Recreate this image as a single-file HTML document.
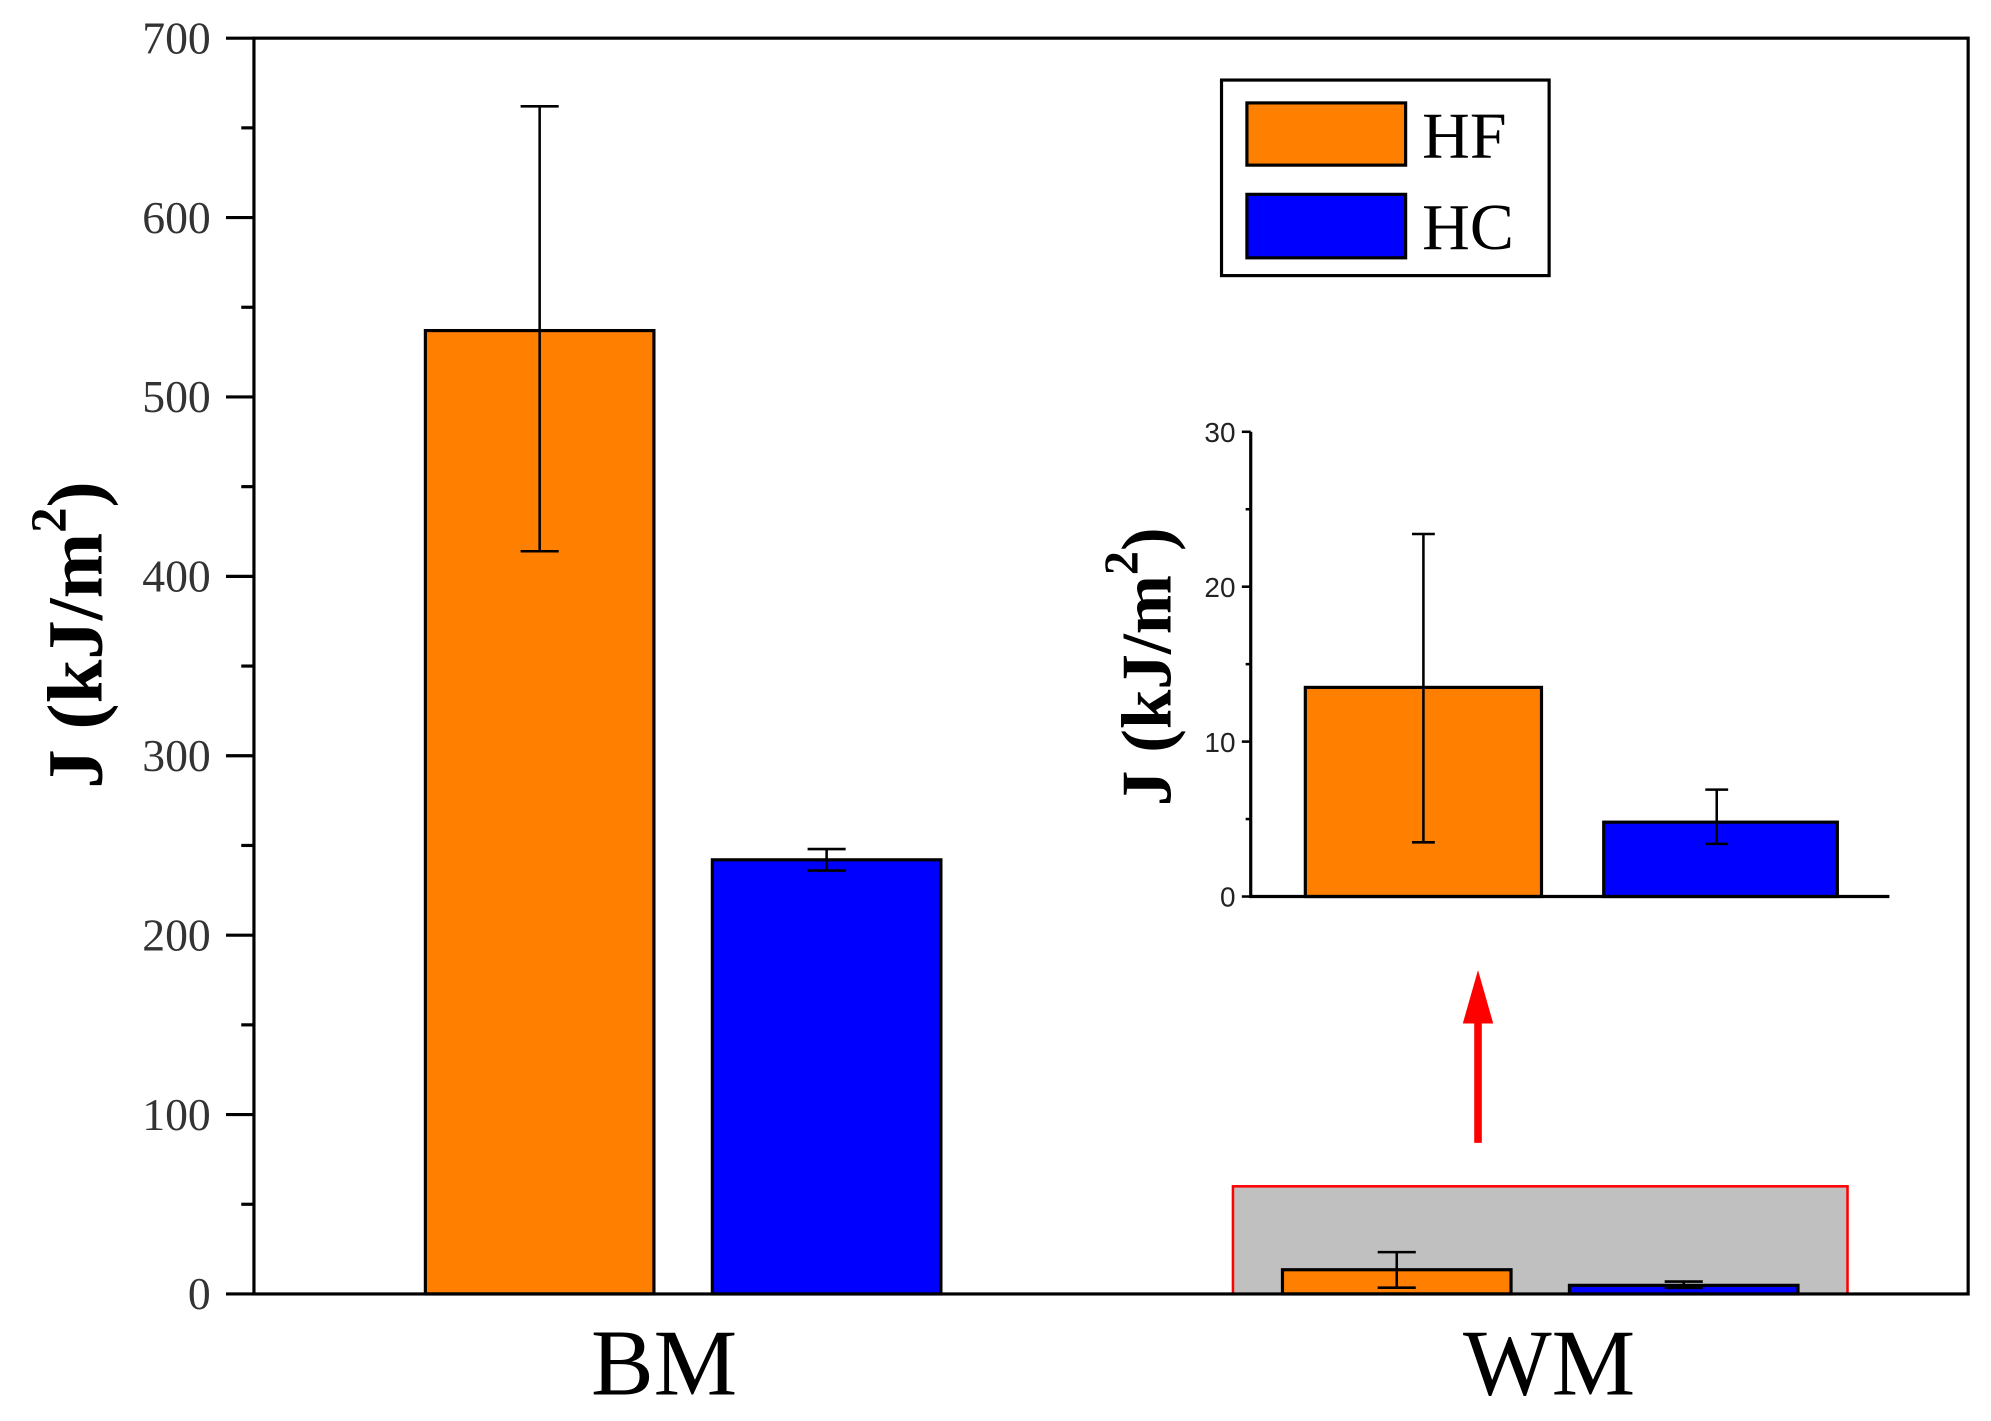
<!DOCTYPE html>
<html><head><meta charset="utf-8"><style>
html,body{margin:0;padding:0;background:#fff;}
svg{display:block;}
</style></head><body>
<svg id="chart" width="1991" height="1421" viewBox="0 0 1568 1119" xmlns="http://www.w3.org/2000/svg" font-family="Liberation Serif, serif">
<g id="main"></g>
<g id="inset"></g>
</svg>
<script>
const categories = ["BM", "WM"];
const hfValues = [537, 13.5];
const hcValues = [242, 4.8];
const hfErrLow = [414, 3.5];
const hfErrHigh = [662, 23.3];
const hcErrLow = [236, 3.4];
const hcErrHigh = [248, 6.9];
const yTicks = [0, 100, 200, 300, 400, 500, 600, 700];
const insetTicks = [0, 10, 20, 30];
const insetValuesHF = [13.5];
const insetValuesHC = [4.8];
const insetErrLowHF = [3.5], insetErrHighHF = [23.4];
const insetErrLowHC = [3.4], insetErrHighHC = [6.9];
const zoomBoxValue = 60;

const NS = "http://www.w3.org/2000/svg";
function mk(parent, tag, attrs, text) {
  const e = document.createElementNS(NS, tag);
  for (const k in attrs) e.setAttribute(k, attrs[k]);
  if (text !== undefined) e.textContent = text;
  parent.appendChild(e);
  return e;
}
const main = document.getElementById('main');
const inset = document.getElementById('inset');

const L = 200, R = 1550, T = 30, B = 1019;
const y = v => B - (v / 700) * (B - T);
const catCenters = [538, 1213];
const labelX = [523, 1220];
const barW = 180, gap = 46;

let zb = mk(main, 'rect', {x: 971, y: y(zoomBoxValue), width: 484, height: B - y(zoomBoxValue), fill: '#c0c0c0', stroke: '#ff0000', 'stroke-width': 2});



function bar(g, x, w, top, base, color, name) {
  const r = mk(g, 'rect', {x: x, y: top, width: w, height: base - top, fill: color, stroke: '#000', 'stroke-width': 2.5});
  
  
}
function err(g, cx, y1, y2, cap, name) {
  const grp = mk(g, 'g', {stroke: '#000', 'stroke-width': 2});
  
  
  mk(grp, 'line', {x1: cx, x2: cx, y1: y1, y2: y2});
  mk(grp, 'line', {x1: cx - cap, x2: cx + cap, y1: y1, y2: y1});
  mk(grp, 'line', {x1: cx - cap, x2: cx + cap, y1: y2, y2: y2});
}
categories.forEach((c, i) => {
  const cx = catCenters[i];
  const xHF = cx - gap / 2 - barW, xHC = cx + gap / 2;
  bar(main, xHF, barW, y(hfValues[i]), B, '#ff8000', 'bar-hf-' + c.toLowerCase());
  bar(main, xHC, barW, y(hcValues[i]), B, '#0000ff', 'bar-hc-' + c.toLowerCase());
  err(main, xHF + barW / 2, y(hfErrHigh[i]), y(hfErrLow[i]), 15, 'error-bar-hf-' + c.toLowerCase());
  err(main, xHC + barW / 2, y(hcErrHigh[i]), y(hcErrLow[i]), 15, 'error-bar-hc-' + c.toLowerCase());
  const t = mk(main, 'text', {x: labelX[i], y: 1098, 'font-size': 74, 'text-anchor': 'middle', fill: '#000'}, c);
  
  
});

let fr = mk(main, 'rect', {x: L, y: T, width: R - L, height: B - T, fill: 'none', stroke: '#000', 'stroke-width': 2.5});


for (let v = 0; v <= 700; v += 50) {
  const major = v % 100 === 0;
  mk(main, 'line', {x1: L - (major ? 22 : 10), x2: L, y1: y(v), y2: y(v), stroke: '#000', 'stroke-width': 2.5});
}
yTicks.forEach(v => {
  const t = mk(main, 'text', {x: 166, y: y(v) + 12, 'font-size': 36, 'text-anchor': 'end', fill: '#333'}, String(v));
  
  
});
let yt = mk(main, 'text', {x: 0, y: 0, 'font-size': 62, 'font-weight': 'bold', 'text-anchor': 'middle', transform: 'translate(80,500) rotate(-90)'});


yt.innerHTML = 'J (kJ/m<tspan dy="-28" font-size="40">2</tspan><tspan dy="28">)</tspan>';

const lg = mk(main, 'g', {});


mk(lg, 'rect', {x: 962, y: 63, width: 258, height: 154, fill: '#fff', stroke: '#000', 'stroke-width': 2.5});
mk(lg, 'rect', {x: 982, y: 81, width: 125, height: 49, fill: '#ff8000', stroke: '#000', 'stroke-width': 2.5});
mk(lg, 'rect', {x: 982, y: 153, width: 125, height: 50, fill: '#0000ff', stroke: '#000', 'stroke-width': 2.5});
let l1 = mk(lg, 'text', {x: 1120, y: 124, 'font-size': 52}, 'HF');


let l2 = mk(lg, 'text', {x: 1120, y: 196, 'font-size': 52}, 'HC');



const ar = mk(main, 'g', {fill: '#ff0000', stroke: 'none'});


mk(ar, 'rect', {x: 1161, y: 790, width: 6, height: 110});
mk(ar, 'polygon', {points: '1164,764 1152,806 1176,806'});

const iL = 985, iR = 1488, iT = 340, iB = 706;
const iy = v => iB - (v / 30) * (iB - iT);
bar(inset, 1028, 186, iy(insetValuesHF[0]), iB, '#ff8000', 'inset-bar-hf');
bar(inset, 1263, 184, iy(insetValuesHC[0]), iB, '#0000ff', 'inset-bar-hc');
err(inset, 1121, iy(insetErrHighHF[0]), iy(insetErrLowHF[0]), 9, 'inset-error-bar-hf');
err(inset, 1352, iy(insetErrHighHC[0]), iy(insetErrLowHC[0]), 9, 'inset-error-bar-hc');
let ia = mk(inset, 'path', {d: `M${iL},${iT} V${iB} H${iR}`, fill: 'none', stroke: '#000', 'stroke-width': 2.5});


for (let v = 0; v <= 30; v += 5) {
  mk(inset, 'line', {x1: iL - (v % 10 === 0 ? 7 : 4), x2: iL, y1: iy(v), y2: iy(v), stroke: '#000', 'stroke-width': 2});
}
insetTicks.forEach(v => {
  const t = mk(inset, 'text', {x: 973, y: iy(v) + 8, 'font-size': 22, 'text-anchor': 'end', 'font-family': 'Liberation Sans, sans-serif', fill: '#222'}, String(v));
  
  
});
let it = mk(inset, 'text', {x: 0, y: 0, 'font-size': 56, 'font-weight': 'bold', 'text-anchor': 'middle', transform: 'translate(922,525) rotate(-90)'});


it.innerHTML = 'J (kJ/m<tspan dy="-26" font-size="38">2</tspan><tspan dy="26">)</tspan>';
</script>
</body></html>
